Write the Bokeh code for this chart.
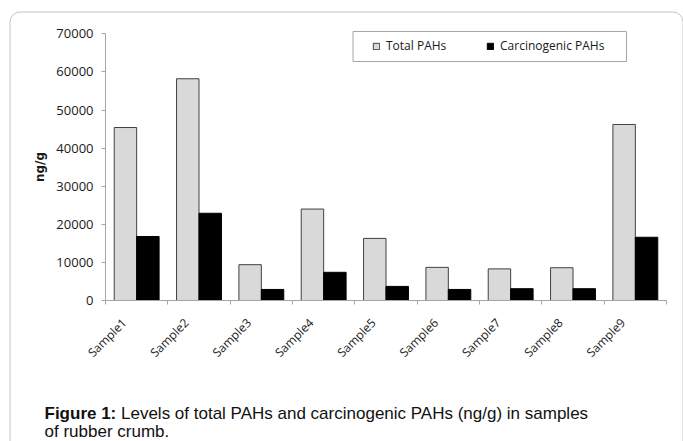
from math import pi
from bokeh.plotting import figure
from bokeh.models import (ColumnDataSource, FixedTicker, NumeralTickFormatter,
                          BoxAnnotation, Label, Legend, LegendItem, Range1d)
from bokeh.transform import dodge
from bokeh.embed import file_html
from bokeh.resources import INLINE

# ---------------- data ----------------
samples = ["Sample1", "Sample2", "Sample3", "Sample4", "Sample5",
           "Sample6", "Sample7", "Sample8", "Sample9"]
total_pahs = [45400, 58200, 9400, 24000, 16300, 8700, 8300, 8600, 46200]
carcinogenic_pahs = [16800, 22900, 2900, 7400, 3700, 2900, 3100, 3100, 16600]
y_ticks = [0, 10000, 20000, 30000, 40000, 50000, 60000, 70000]
series_labels = ["Total PAHs", "Carcinogenic PAHs"]
y_label = "ng/g"
caption_bold = "Figure 1:"
caption_rest = "Levels of total PAHs and carcinogenic PAHs (ng/g) in samples"
caption_line2 = "of rubber crumb."

# ---------------- layout (pixels) ----------------
W, H = 683, 441
PX_X0, PX_X1 = 105, 666      # pixel of the x axis start / end
PX_Y0, PX_Y1 = 300, 33.3     # pixel of y = first tick / last tick

n = len(samples)
xs = list(range(1, n + 1))
x_lo, x_hi = 0.5, n + 0.5
y_lo, y_hi = y_ticks[0], y_ticks[-1]
ux = (PX_X1 - PX_X0) / (x_hi - x_lo)
uy = (PX_Y0 - PX_Y1) / (y_hi - y_lo)
x_range = Range1d(x_lo - PX_X0 / ux, x_hi + (W - PX_X1) / ux)
y_range = Range1d(y_lo - (H - PX_Y0) / uy, y_hi + PX_Y1 / uy)

src = ColumnDataSource(dict(x=xs, total=total_pahs, carc=carcinogenic_pahs))

TICK_FONT = "Open Sans"
p = figure(width=W, height=H, x_range=x_range, y_range=y_range,
           output_backend="svg", toolbar_location=None,
           min_border=0, min_border_left=0, min_border_right=0,
           min_border_top=0, min_border_bottom=0)
p.outline_line_color = None
p.background_fill_color = "white"
p.border_fill_color = "white"
p.xgrid.visible = False
p.ygrid.visible = False

r_total = p.vbar(x=dodge("x", -0.18, range=p.x_range), top="total", width=0.36,
                 source=src, fill_color="#d9d9d9", line_color="#404040", line_width=1)
r_carc = p.vbar(x=dodge("x", 0.18, range=p.x_range), top="carc", width=0.36,
                source=src, fill_color="black", line_color="black", line_width=1)

# y axis
yax = p.yaxis[0]
yax.fixed_location = x_lo
yax.bounds = (y_lo, y_hi)
yax.ticker = FixedTicker(ticks=y_ticks)
yax.formatter = NumeralTickFormatter(format="0")
yax.axis_line_color = "#a6a6a6"
yax.major_tick_line_color = "#a6a6a6"
yax.minor_tick_line_color = None
yax.major_tick_out = 4
yax.major_tick_in = 0
yax.major_label_standoff = 8
yax.major_label_text_font = TICK_FONT
yax.major_label_text_font_size = "13px"
yax.major_label_text_color = "#1a1a1a"
yax.axis_label = y_label
yax.axis_label_text_font = "DejaVu Sans"
yax.axis_label_text_font_style = "bold"
yax.axis_label_text_font_size = "12px"
yax.axis_label_text_color = "#1a1a1a"
yax.axis_label_standoff = 6

# x axis
LABEL_SHIFT = 0.2
xax = p.xaxis[0]
xax.fixed_location = y_lo
xax.bounds = (x_lo, x_hi)
label_ticks = [v - LABEL_SHIFT for v in xs]
xax.ticker = FixedTicker(ticks=label_ticks,
                         minor_ticks=[v - 0.5 for v in xs] + [xs[-1] + 0.5])
xax.major_label_overrides = {t: s for t, s in zip(label_ticks, samples)}
xax.axis_line_color = "#a6a6a6"
xax.major_tick_line_color = None
xax.major_tick_out = 0
xax.major_tick_in = 0
xax.minor_tick_line_color = "#a6a6a6"
xax.minor_tick_out = 4
xax.minor_tick_in = 0
xax.major_label_orientation = pi / 4
xax.major_label_standoff = 16
xax.major_label_text_font = TICK_FONT
xax.major_label_text_font_size = "12px"
xax.major_label_text_color = "#1a1a1a"

# outer rounded frame
p.add_layout(BoxAnnotation(left=9.5, right=682.5, top=11.5, bottom=480,
                           left_units="canvas", right_units="canvas",
                           top_units="canvas", bottom_units="canvas",
                           fill_alpha=0, line_color="#c4c4c4", line_alpha=1,
                           line_width=1, border_radius=10))
# legend box
p.add_layout(BoxAnnotation(left=352.5, right=626, top=31, bottom=61,
                           left_units="canvas", right_units="canvas",
                           top_units="canvas", bottom_units="canvas",
                           fill_alpha=0, line_color="#a6a6a6", line_alpha=1,
                           line_width=1))

legend = Legend(items=[LegendItem(label=series_labels[0], renderers=[r_total]),
                       LegendItem(label=series_labels[1], renderers=[r_carc])],
                orientation="horizontal", location=(372, H - 54),
                padding=0, margin=0, spacing=0,
                glyph_width=8, glyph_height=8, label_standoff=6, label_width=100,
                label_text_font=TICK_FONT, label_text_font_size="12px",
                label_text_color="#1a1a1a",
                border_line_color=None, background_fill_alpha=0)
p.add_layout(legend)

# caption
CAP_FONT = "Liberation Sans"
CAP_SIZE = 17
CAP_X = 44
p.add_layout(Label(x=CAP_X, y=H - 413, x_units="screen", y_units="screen",
                   text=caption_bold, text_font=CAP_FONT, text_font_style="bold",
                   text_font_size=f"{CAP_SIZE}px", text_baseline="middle",
                   text_color="#111111"))
p.add_layout(Label(x=CAP_X + 4.5 * CAP_SIZE, y=H - 413, x_units="screen", y_units="screen",
                   text=caption_rest, text_font=CAP_FONT,
                   text_font_size=f"{CAP_SIZE}px", text_baseline="middle",
                   text_color="#111111"))
p.add_layout(Label(x=CAP_X, y=H - 431, x_units="screen", y_units="screen",
                   text=caption_line2, text_font=CAP_FONT,
                   text_font_size=f"{CAP_SIZE}px", text_baseline="middle",
                   text_color="#111111"))

open("out.html", "w").write(file_html(p, INLINE))
